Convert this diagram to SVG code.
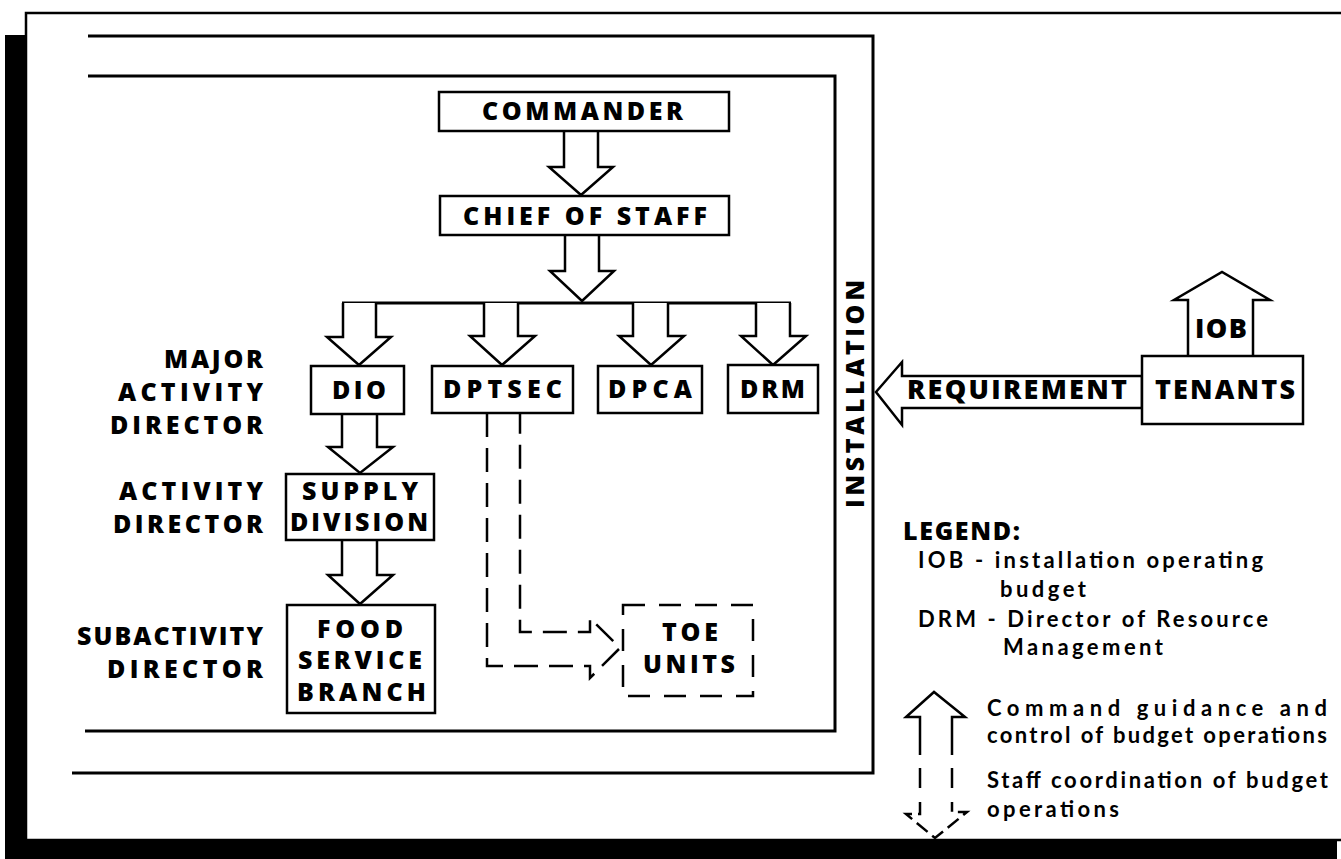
<svg xmlns="http://www.w3.org/2000/svg" width="1341" height="859" viewBox="0 0 1341 859">
<style>
.t{font-family:"Open Sans",Lato,"Liberation Sans",sans-serif;font-weight:800;font-size:25px;fill:#000}
.b{font-size:27px}
.l{font-family:Lato,"Open Sans","Liberation Sans",sans-serif;font-size:22px;font-weight:700}
.box{fill:#fff;stroke:#000;stroke-width:2.5}
.arr{fill:#fff;stroke:#000;stroke-width:2.5;stroke-linejoin:miter}
.ln{fill:none;stroke:#000;stroke-width:3}
.dash{fill:none;stroke:#000;stroke-width:2.5;stroke-dasharray:24 11}
</style>
<rect width="1341" height="859" fill="#fff"/>
<g id="page">
<rect x="5" y="35" width="1332" height="824" fill="#000"/>
<rect x="26" y="13" width="1340" height="827" fill="#fff" stroke="#000" stroke-width="2.5"/>
</g>
<g id="installation">
<polyline class="ln" points="88,36 873,36 873,773 72,773"/>
<polyline class="ln" points="88,76 835,76 835,731 85,731"/>
<text class="t" transform="translate(864,508) rotate(-90)" textLength="228" lengthAdjust="spacing">INSTALLATION</text>
</g>
<g id="connectors">
<polyline class="arr" points="564,131 564,167 549,167 581,195 613,167 598,167 598,131"/>
<polyline class="arr" points="565,235 565,271 550,271 582,301 614,271 599,271 599,235"/>
<line class="ln" x1="342" y1="303" x2="791" y2="303" stroke-width="2.5"/>
<polyline class="arr" points="343,303 343,337 327,337 359,365 391,337 376,337 376,303"/>
<polyline class="arr" points="484,303 484,336 470,336 502,365 535,336 518,336 518,303"/>
<polyline class="arr" points="633,303 633,336 619,336 651,365 684,336 668,336 668,303"/>
<polyline class="arr" points="756,303 756,336 741,336 773,365 806,336 790,336 790,303"/>
<polyline class="arr" points="342,414 342,447 328,447 360,473 393,447 377,447 377,414"/>
<polyline class="arr" points="342,540 342,575 328,575 360,604 393,575 377,575 377,540"/>
<polyline class="dash" points="487,413 487,666 590,666 590,678 620,648 590,618 590,632 520,632 520,413"/>
<polygon class="arr" points="1142,376 902,376 902,362 876,392 902,425 902,408 1142,408"/>
<polyline class="arr" points="1188,356 1188,300 1174,300 1222,272 1270,300 1253,300 1253,356"/>
</g>
<g id="commander">
<rect class="box" x="439" y="92" width="290" height="39"/>
<text class="t" x="482" y="120" textLength="201" lengthAdjust="spacing">COMMANDER</text>
</g>
<g id="chief-of-staff">
<rect class="box" x="440" y="196" width="289" height="39"/>
<text class="t" x="463" y="225" textLength="244" lengthAdjust="spacing">CHIEF OF STAFF</text>
</g>
<g id="dio">
<rect class="box" x="311" y="366" width="93" height="48"/>
<text class="t" x="332" y="399" textLength="54" lengthAdjust="spacing">DIO</text>
</g>
<g id="dptsec">
<rect class="box" x="432" y="366" width="141" height="47"/>
<text class="t" x="443" y="398" textLength="119" lengthAdjust="spacing">DPTSEC</text>
</g>
<g id="dpca">
<rect class="box" x="598" y="366" width="104" height="47"/>
<text class="t" x="608" y="398" textLength="84" lengthAdjust="spacing">DPCA</text>
</g>
<g id="drm">
<rect class="box" x="728" y="365" width="90" height="48"/>
<text class="t" x="740" y="398" textLength="65" lengthAdjust="spacing">DRM</text>
</g>
<g id="supply-division">
<rect class="box" x="286" y="474" width="148" height="66"/>
<text class="t" x="302" y="500" textLength="116" lengthAdjust="spacing">SUPPLY</text>
<text class="t" x="290" y="531" textLength="138" lengthAdjust="spacing">DIVISION</text>
</g>
<g id="food-service-branch">
<rect class="box" x="287" y="605" width="148" height="108"/>
<text class="t" x="317" y="638" textLength="86" lengthAdjust="spacing">FOOD</text>
<text class="t" x="298" y="669" textLength="124" lengthAdjust="spacing">SERVICE</text>
<text class="t" x="297" y="701" textLength="129" lengthAdjust="spacing">BRANCH</text>
</g>
<g id="toe-units">
<rect x="623" y="605" width="130" height="91" fill="none" stroke="#000" stroke-width="2.5" stroke-dasharray="22 14"/>
<text class="t" x="662" y="641" textLength="56" lengthAdjust="spacing">TOE</text>
<text class="t" x="643" y="673" textLength="92" lengthAdjust="spacing">UNITS</text>
</g>
<g id="tenants">
<rect class="box" x="1142" y="356" width="161" height="68"/>
<text class="t b" x="1155" y="399" textLength="140" lengthAdjust="spacing">TENANTS</text>
</g>
<g id="labels">
<text class="t b" x="907" y="399" textLength="220" lengthAdjust="spacing">REQUIREMENT</text>
<text class="t b" x="1195" y="338" textLength="52" lengthAdjust="spacing">IOB</text>
<text class="t" x="164" y="368" textLength="99" lengthAdjust="spacing">MAJOR</text>
<text class="t" x="118" y="401" textLength="145" lengthAdjust="spacing">ACTIVITY</text>
<text class="t" x="110" y="434" textLength="153" lengthAdjust="spacing">DIRECTOR</text>
<text class="t" x="119" y="500" textLength="144" lengthAdjust="spacing">ACTIVITY</text>
<text class="t" x="113" y="533" textLength="150" lengthAdjust="spacing">DIRECTOR</text>
<text class="t" x="77" y="645" textLength="186" lengthAdjust="spacing">SUBACTIVITY</text>
<text class="t" x="107" y="678" textLength="156" lengthAdjust="spacing">DIRECTOR</text>
</g>
<g id="legend">
<text class="t" x="903" y="540" textLength="117" lengthAdjust="spacing">LEGEND:</text>
<text class="t l" x="918" y="568" textLength="345" lengthAdjust="spacing">IOB - installation operating</text>
<text class="t l" x="1000" y="597" textLength="86" lengthAdjust="spacing">budget</text>
<text class="t l" x="918" y="627" textLength="350" lengthAdjust="spacing">DRM - Director of Resource</text>
<text class="t l" x="1003" y="655" textLength="160" lengthAdjust="spacing">Management</text>
<polyline points="920,755 920,717 906,717 934,692 965,717 952,717 952,755" fill="none" stroke="#000" stroke-width="2.5"/>
<line x1="920" y1="768" x2="920" y2="788" stroke="#000" stroke-width="2.5"/>
<line x1="952" y1="768" x2="952" y2="788" stroke="#000" stroke-width="2.5"/>
<polyline points="920,802 920,814 906,814 935,838 967,812 952,812 952,802" fill="none" stroke="#000" stroke-width="2.5" stroke-dasharray="14 6"/>
<text class="t l" x="987" y="716" textLength="340" lengthAdjust="spacing">Command guidance and</text>
<text class="t l" x="987" y="743" textLength="340" lengthAdjust="spacing">control of budget operations</text>
<text class="t l" x="987" y="788" textLength="341" lengthAdjust="spacing">Staff coordination of budget</text>
<text class="t l" x="987" y="817" textLength="132" lengthAdjust="spacing">operations</text>
</g>
</svg>
